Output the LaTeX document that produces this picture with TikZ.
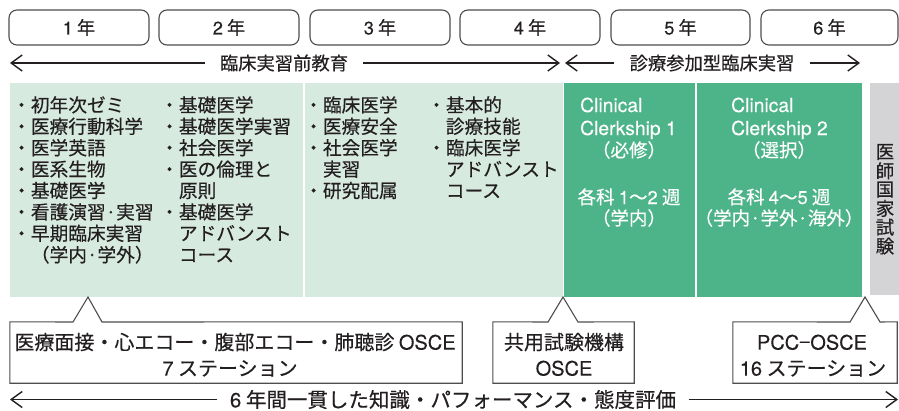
\documentclass[tikz,border=0pt]{standalone}
\usepackage{fontspec}
\setmainfont{Noto Sans CJK JP}[FakeBold=0.35]
\newfontfamily\hv{TeX Gyre Heros}[FakeBold=0.15]
\usetikzlibrary{arrows.meta}
\definecolor{lightg}{HTML}{D7EAE0}
\definecolor{darkg}{HTML}{4DB389}
\definecolor{grayp}{HTML}{D4D4D6}
\definecolor{ink}{HTML}{231F20}
\definecolor{edge}{HTML}{4D4D4D}
\begin{document}
\begin{tikzpicture}[x=1pt,y=-1pt,
  every node/.style={inner sep=0pt, text=ink},
  yearbox/.style={draw=edge, line width=1.1pt, rounded corners=8pt,
    minimum height=35pt, font=\fontsize{18.3}{20}\selectfont},
  alabel/.style={inner xsep=15pt, font=\fontsize{18.3}{20}\selectfont},
  blabel/.style={inner xsep=12.5pt, font=\fontsize{20.5}{22}\selectfont},
  arr/.style={line width=1.4pt, draw=ink, -{Straight Barb[length=11pt,width=16pt,line width=1.4pt]}},
  ptext/.style={anchor=base west, font=\fontsize{18.7}{20}\selectfont},
  gtext/.style={text=white, font=\fontsize{18.5}{20}\selectfont},
  gltext/.style={text=white, anchor=base west, font=\hv\fontsize{19.3}{20}\selectfont},
  cbox/.style={minimum height=61pt},
  cline/.style={draw=edge, line width=1.1pt, fill=white},
  ctext/.style={anchor=base, font=\fontsize{20}{22}\selectfont},
]
\useasboundingbox[fill=white] (0,0) rectangle (899,410);

% year boxes
\node[yearbox, minimum width=140pt] (y1) at (79,27.5) {{\hv 1}\hspace{4pt}年};
\node[yearbox, minimum width=140pt] (y2) at (229,27.5) {{\hv 2}\hspace{4pt}年};
\node[yearbox, minimum width=140pt] (y3) at (380,27.5) {{\hv 3}\hspace{4pt}年};
\node[yearbox, minimum width=140pt] (y4) at (530,27.5) {{\hv 4}\hspace{4pt}年};
\node[yearbox, minimum width=139pt] (y5) at (680.5,27.5) {{\hv 5}\hspace{4pt}年};
\node[yearbox, minimum width=137pt] (y6) at (829.5,27.5) {{\hv 6}\hspace{4pt}年};

% phase arrows
\node[alabel] (pre) at (284,63) {臨床実習前教育};
\coordinate (preL) at (10,63);
\coordinate (preR) at (560,63);
\draw[arr] (pre.west |- preL) -- (preL);
\draw[arr] (pre.east |- preR) -- (preR);
\node[alabel] (cc) at (712,63) {診療参加型臨床実習};
\coordinate (ccL) at (565,63);
\coordinate (ccR) at (860,63);
\draw[arr] (cc.west |- ccL) -- (ccL);
\draw[arr] (cc.east |- ccR) -- (ccR);

% panels
\fill[lightg] (10,83) rectangle (303,297);
\fill[lightg] (305,83) rectangle (563,297);
\fill[darkg] (564,83) rectangle (695,297);
\fill[darkg] (697,83) rectangle (862,297);
\fill[grayp] (870,83) rectangle (899,295);

% panel 1
\foreach \t [count=\i] in {・初年次ゼミ,・医療行動科学,・医学英語,・医系生物,・基礎医学,・看護演習·実習,・早期臨床実習,\hspace{1em}（学内·学外）}
  \node[ptext] (pa\i) at (12,{112+21.4*(\i-1)}) {\t};
\foreach \t [count=\i] in {・基礎医学,・基礎医学実習,・社会医学,・医の倫理と,\hspace{1em}原則,・基礎医学,\hspace{1em}アドバンスト,\hspace{1em}コース}
  \node[ptext] (pb\i) at (160,{112+21.4*(\i-1)}) {\t};
% panel 2
\foreach \t [count=\i] in {・臨床医学,・医療安全,・社会医学,\hspace{1em}実習,・研究配属}
  \node[ptext] (pc\i) at (304,{112+21.4*(\i-1)}) {\t};
\foreach \t [count=\i] in {・基本的,\hspace{1em}診療技能,・臨床医学,\hspace{1em}アドバンスト,\hspace{1em}コース}
  \node[ptext] (pd\i) at (427,{112+21.4*(\i-1)}) {\t};

% clinical clerkship 1
\node[gltext] (ca1) at (580,112) {Clinical};
\node[gltext] (ca2) at (580,135) {Clerkship 1};
\node[gtext, anchor=base] (ca3) at (629,157) {（必修）};
\node[gtext, anchor=base] (ca4) at (629,204) {各科 {\hv 1}〜{\hv 2} 週};
\node[gtext, anchor=base] (ca5) at (629,225) {（学内）};
% clinical clerkship 2
\node[gltext] (cb1) at (731,112) {Clinical};
\node[gltext] (cb2) at (731,135) {Clerkship 2};
\node[gtext, anchor=base] (cb3) at (779,157) {（選択）};
\node[gtext, anchor=base] (cb4) at (779,204) {各科 {\hv 4}〜{\hv 5} 週};
\node[gtext, anchor=base] (cb5) at (779,225) {（学内·学外·海外）};

% national exam
\foreach \c [count=\i] in {医,師,国,家,試,験}
  \node[font=\fontsize{18.5}{20}\selectfont] (ne\i) at (885,{152+18.8*(\i-1)}) {\c};

% callouts
\node[cbox, minimum width=452pt] (o1) at (236,352.5) {};
\draw[cline] (o1.north west) -- (73,322) -- (88,297) -- (102,322) -- (o1.north east)
  -- (o1.south east) -- (o1.south west) -- cycle;
\node[ctext] (o1a) at (235,349.6) {医療面接・心エコー・腹部エコー・肺聴診 {\hv OSCE}};
\node[ctext] (o1b) at (230,375.6) {{\hv 7} ステーション};

\node[cbox, minimum width=141pt] (o2) at (563.5,352.5) {};
\draw[cline] (o2.north west) -- (548,322) -- (563,297) -- (578,322) -- (o2.north east)
  -- (o2.south east) -- (o2.south west) -- cycle;
\node[ctext] (o2a) at (564,349.6) {共用試験機構};
\node[ctext] (o2b) at (564,375.6) {\hv OSCE};

\node[cbox, minimum width=164pt] (o3) at (815,352.5) {};
\draw[cline] (o3.north west) -- (850,322) -- (865,297) -- (880,322) -- (o3.north east)
  -- (o3.south east) -- (o3.south west) -- cycle;
\node[ctext] (o3a) at (812,349.6) {{\hv PCC}−{\hv OSCE}};
\node[ctext] (o3b) at (813,375.6) {{\hv 16} ステーション};

% bottom arrow
\node[blabel] (ev) at (453,399.5) {{\hv 6} 年間一貫した知識・パフォーマンス・態度評価};
\coordinate (evL) at (10,399.5);
\coordinate (evR) at (898,399.5);
\draw[arr] (ev.west |- evL) -- (evL);
\draw[arr] (ev.east |- evR) -- (evR);
\end{tikzpicture}
\end{document}
